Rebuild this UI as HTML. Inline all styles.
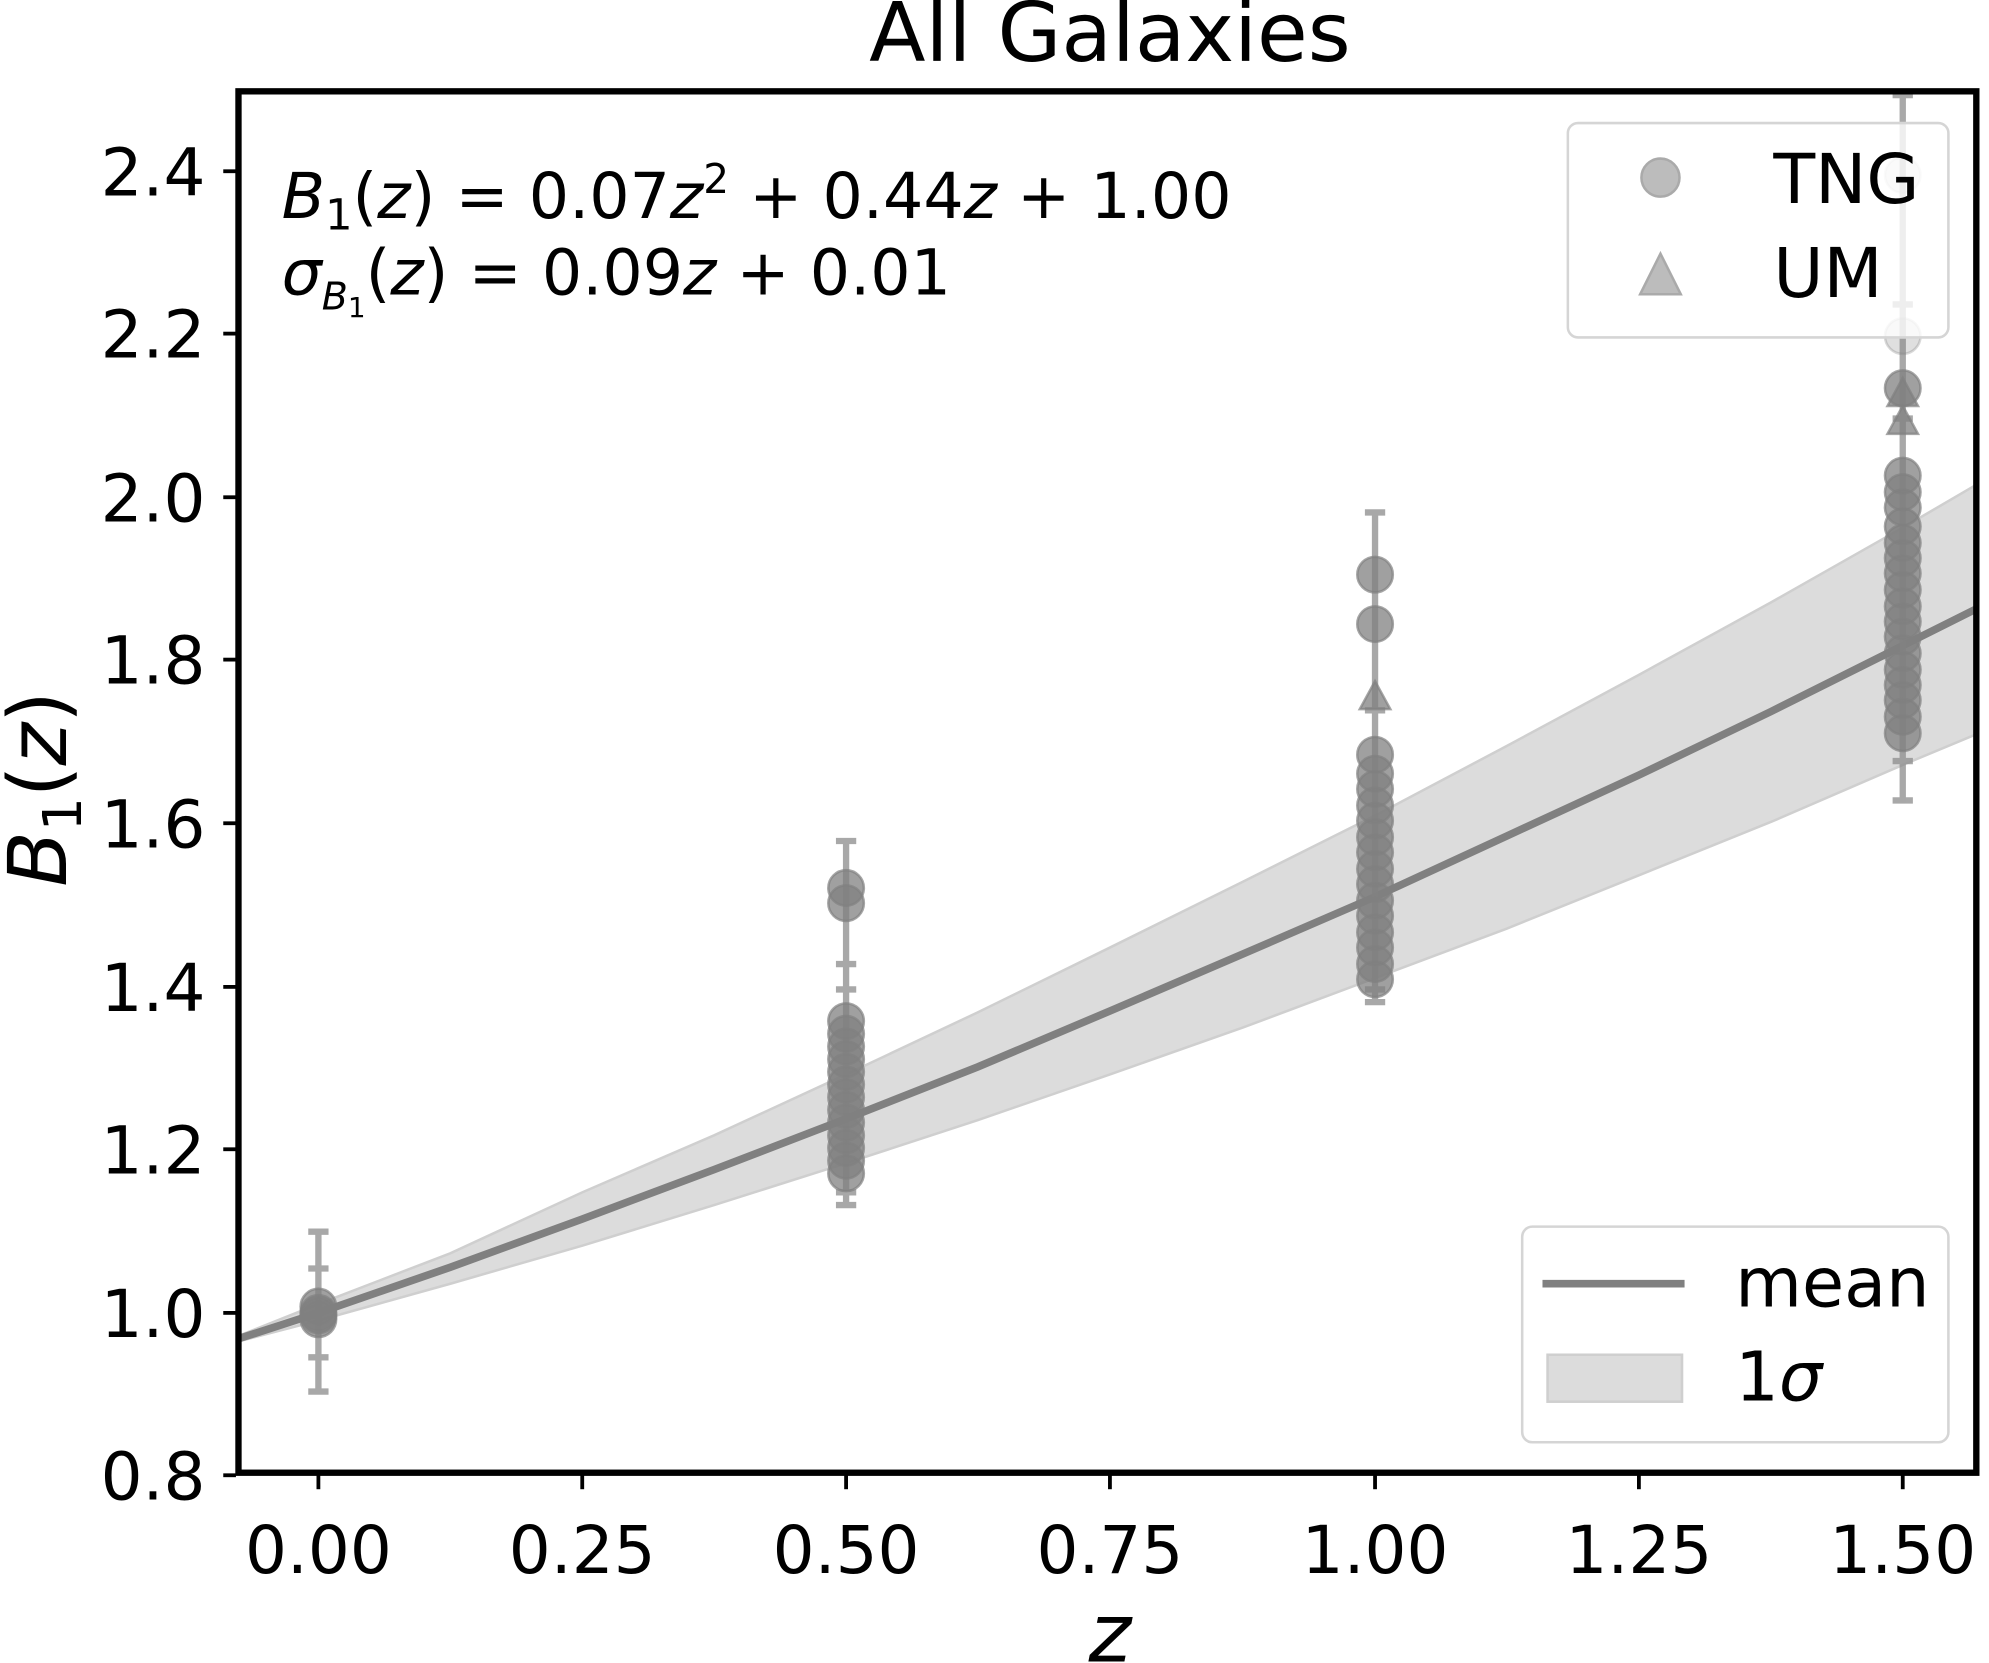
<!DOCTYPE html>
<html><head><meta charset="utf-8"><style>
html,body{margin:0;padding:0;background:#fff;}
svg{display:block;}
text{font-family:"DejaVu Sans","Liberation Sans",sans-serif;fill:#000;}
</style></head><body>
<svg width="1989" height="1663" viewBox="0 0 1568 1311" preserveAspectRatio="none" xmlns="http://www.w3.org/2000/svg">
<rect width="1568" height="1311" fill="#fff"/>
<text x="875" y="48" font-size="65" text-anchor="middle">All Galaxies</text>
<defs><clipPath id="c"><rect x="186" y="70" width="1374" height="1093"/></clipPath></defs>
<g clip-path="url(#c)">
<path d="M186,1054 L251,1028 L355,988 L459,940 L563,895 L667,847 L771,798 L875,747 L980,695 L1084,643 L1188,588 L1292,532 L1396,475 L1500,416 L1560,381 L1560,578 L1500,603 L1396,648 L1292,690 L1188,732 L1084,771 L980,810 L875,847 L771,883 L667,917 L563,950 L459,982 L355,1012 L251,1041 L186,1058 Z" fill="#dcdcdc" stroke="#cfcfcf" stroke-width="2"/>
<path d="M186,1056 L251,1035 L355,999 L459,961 L563,922 L667,882 L771,841 L875,797 L980,752 L1084,707 L1188,659 L1292,611 L1396,561 L1500,509 L1560,479" fill="none" stroke="#808080" stroke-width="6"/>
<g stroke="#8c8c8c" stroke-width="5" opacity="0.75">
<line x1="251" y1="971" x2="251" y2="1097"/><line x1="243" y1="971" x2="259" y2="971"/><line x1="243" y1="1097" x2="259" y2="1097"/>
<line x1="243" y1="1000" x2="259" y2="1000"/><line x1="243" y1="1070" x2="259" y2="1070"/>
<line x1="667" y1="663" x2="667" y2="950"/><line x1="659" y1="663" x2="675" y2="663"/><line x1="659" y1="950" x2="675" y2="950"/>
<line x1="659" y1="760" x2="675" y2="760"/><line x1="659" y1="780" x2="675" y2="780"/><line x1="659" y1="940" x2="675" y2="940"/>
<line x1="1084" y1="404" x2="1084" y2="790"/><line x1="1076" y1="404" x2="1092" y2="404"/><line x1="1076" y1="790" x2="1092" y2="790"/>
<line x1="1076" y1="560" x2="1092" y2="560"/><line x1="1076" y1="780" x2="1092" y2="780"/>
<line x1="1500" y1="75" x2="1500" y2="631"/><line x1="1492" y1="75" x2="1508" y2="75"/><line x1="1492" y1="631" x2="1508" y2="631"/>
<line x1="1492" y1="240" x2="1508" y2="240"/><line x1="1492" y1="330" x2="1508" y2="330"/><line x1="1492" y1="600" x2="1508" y2="600"/>
</g>
<g fill="#808080" fill-opacity="0.75" stroke="#808080" stroke-opacity="0.7" stroke-width="2">
<circle cx="251" cy="1035" r="14"/><circle cx="251" cy="1040" r="14"/><circle cx="251" cy="1030" r="14"/><circle cx="251" cy="1037" r="14"/>
<circle cx="667" cy="700" r="14"/><circle cx="667" cy="712" r="14"/>
<circle cx="667" cy="805" r="14"/><circle cx="667" cy="815" r="14"/><circle cx="667" cy="825" r="14"/><circle cx="667" cy="835" r="14"/><circle cx="667" cy="845" r="14"/><circle cx="667" cy="855" r="14"/><circle cx="667" cy="865" r="14"/><circle cx="667" cy="875" r="14"/><circle cx="667" cy="885" r="14"/><circle cx="667" cy="895" r="14"/><circle cx="667" cy="905" r="14"/><circle cx="667" cy="915" r="14"/><circle cx="667" cy="925" r="14"/>
<circle cx="1084" cy="453" r="14"/><circle cx="1084" cy="492" r="14"/>
<circle cx="1084" cy="595" r="14"/><circle cx="1084" cy="610" r="14"/><circle cx="1084" cy="622" r="14"/><circle cx="1084" cy="635" r="14"/><circle cx="1084" cy="647" r="14"/><circle cx="1084" cy="660" r="14"/><circle cx="1084" cy="672" r="14"/><circle cx="1084" cy="685" r="14"/><circle cx="1084" cy="697" r="14"/><circle cx="1084" cy="710" r="14"/><circle cx="1084" cy="722" r="14"/><circle cx="1084" cy="735" r="14"/><circle cx="1084" cy="747" r="14"/><circle cx="1084" cy="760" r="14"/><circle cx="1084" cy="772" r="14"/>
<circle cx="1500" cy="138" r="14" fill-opacity="0.2" stroke-opacity="0.2"/><circle cx="1500" cy="265" r="14" fill-opacity="0.25" stroke-opacity="0.3"/><circle cx="1500" cy="306" r="14"/>
<circle cx="1500" cy="375" r="14"/><circle cx="1500" cy="388" r="14"/><circle cx="1500" cy="400" r="14"/><circle cx="1500" cy="415" r="14"/><circle cx="1500" cy="428" r="14"/><circle cx="1500" cy="440" r="14"/><circle cx="1500" cy="452" r="14"/><circle cx="1500" cy="465" r="14"/><circle cx="1500" cy="478" r="14"/><circle cx="1500" cy="490" r="14"/><circle cx="1500" cy="502" r="14"/><circle cx="1500" cy="515" r="14"/><circle cx="1500" cy="528" r="14"/><circle cx="1500" cy="540" r="14"/><circle cx="1500" cy="552" r="14"/><circle cx="1500" cy="565" r="14"/><circle cx="1500" cy="578" r="14"/>
<path d="M1084,537 l12,22 h-24z"/><path d="M1500,298 l12,22 h-24z"/><path d="M1500,320 l12,22 h-24z"/>
</g>
</g>
<rect x="188" y="72" width="1370" height="1089" fill="none" stroke="#000" stroke-width="5"/>
<g stroke="#000" stroke-width="3">
<line x1="176" y1="135" x2="186" y2="135"/><line x1="176" y1="263" x2="186" y2="263"/><line x1="176" y1="392" x2="186" y2="392"/><line x1="176" y1="520" x2="186" y2="520"/><line x1="176" y1="649" x2="186" y2="649"/><line x1="176" y1="778" x2="186" y2="778"/><line x1="176" y1="906" x2="186" y2="906"/><line x1="176" y1="1035" x2="186" y2="1035"/><line x1="176" y1="1163" x2="186" y2="1163"/>
<line x1="251" y1="1163" x2="251" y2="1174"/><line x1="459" y1="1163" x2="459" y2="1174"/><line x1="667" y1="1163" x2="667" y2="1174"/><line x1="875" y1="1163" x2="875" y2="1174"/><line x1="1084" y1="1163" x2="1084" y2="1174"/><line x1="1292" y1="1163" x2="1292" y2="1174"/><line x1="1500" y1="1163" x2="1500" y2="1174"/>
</g>
<g font-size="52" text-anchor="end">
<text x="162" y="154">2.4</text><text x="162" y="282">2.2</text><text x="162" y="411">2.0</text><text x="162" y="539">1.8</text><text x="162" y="668">1.6</text><text x="162" y="797">1.4</text><text x="162" y="925">1.2</text><text x="162" y="1054">1.0</text><text x="162" y="1182">0.8</text>
</g>
<g font-size="52" text-anchor="middle">
<text x="251" y="1240">0.00</text><text x="459" y="1240">0.25</text><text x="667" y="1240">0.50</text><text x="875" y="1240">0.75</text><text x="1084" y="1240">1.00</text><text x="1292" y="1240">1.25</text><text x="1500" y="1240">1.50</text>
</g>
<text x="875" y="1310" font-size="64" font-style="italic" text-anchor="middle">z</text>
<text transform="translate(52,622) rotate(-90)" font-size="64" text-anchor="middle"><tspan font-style="italic">B</tspan><tspan font-size="42" dy="12">1</tspan><tspan dy="-12">(</tspan><tspan font-style="italic">z</tspan>)</text>
<text x="222" y="172" font-size="50"><tspan font-style="italic">B</tspan><tspan font-size="34" dy="9">1</tspan><tspan dy="-9">(</tspan><tspan font-style="italic">z</tspan>) = 0.07<tspan font-style="italic">z</tspan><tspan font-size="32" dy="-20">2</tspan><tspan dy="20"> + 0.44</tspan><tspan font-style="italic">z</tspan> + 1.00</text>
<text x="222" y="232" font-size="50"><tspan font-style="italic">σ</tspan><tspan font-size="30" dy="12" font-style="italic">B</tspan><tspan font-size="22" dy="6">1</tspan><tspan dy="-18">(</tspan><tspan font-style="italic">z</tspan>) = 0.09<tspan font-style="italic">z</tspan> + 0.01</text>
<rect x="1236" y="97" width="300" height="169" rx="8" fill="#fff" fill-opacity="0.8" stroke="#d5d5d5" stroke-width="2"/>
<circle cx="1309" cy="140" r="15" fill="#bcbcbc" stroke="#aaa" stroke-width="2"/>
<path d="M1309,200 l16,32 h-32z" fill="#bcbcbc" stroke="#aaa" stroke-width="2"/>
<text x="1398" y="160" font-size="54">TNG</text><text x="1398" y="234" font-size="54">UM</text>
<rect x="1200" y="967" width="336" height="170" rx="8" fill="#fff" fill-opacity="0.8" stroke="#d5d5d5" stroke-width="2"/>
<line x1="1216" y1="1012" x2="1328" y2="1012" stroke="#808080" stroke-width="6"/>
<rect x="1220" y="1068" width="106" height="37" fill="#dcdcdc" stroke="#cfcfcf" stroke-width="2"/>
<text x="1368" y="1030" font-size="54">mean</text>
<text x="1368" y="1104" font-size="54">1<tspan font-style="italic">σ</tspan></text>
</svg>
</body></html>
